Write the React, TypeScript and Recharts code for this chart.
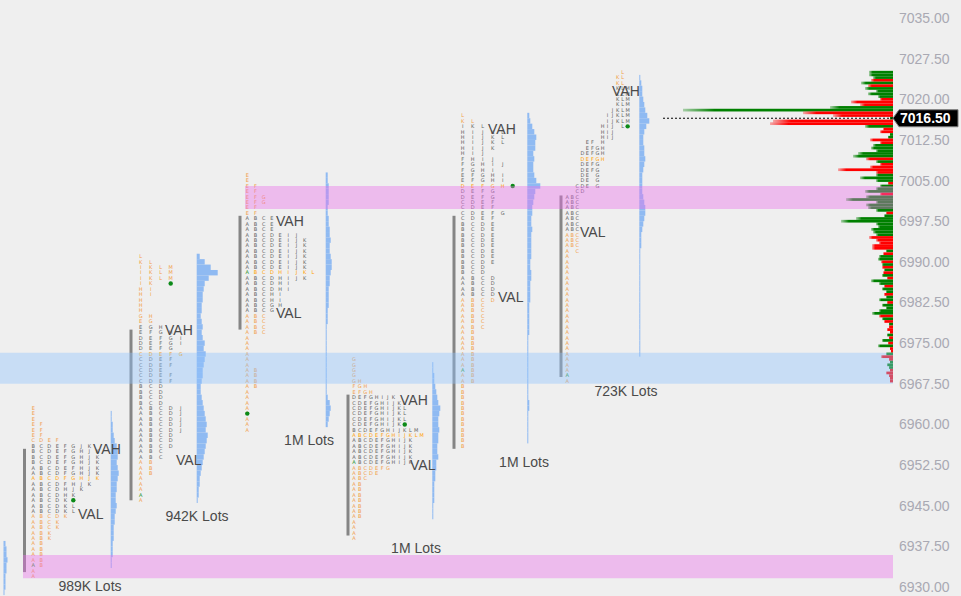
import React from "react";
import { ComposedChart, XAxis, YAxis, Scatter, ReferenceArea, ReferenceLine, ReferenceDot } from "recharts";

const CHART_W = 961;
const CHART_H = 596;
const AXIS_W = 68;
const PLOT_W = CHART_W - AXIS_W;
const Y_MIN = 6928.34;
const Y_MAX = 7038.32;
const PX_PER_PT = CHART_H / (Y_MAX - Y_MIN);

const PRICE_TICKS = [6930, 6937.5, 6945, 6952.5, 6960, 6967.5, 6975, 6982.5, 6990, 6997.5, 7005, 7012.5, 7020, 7027.5, 7035];
const LAST_PRICE = 7016.5;

// collapsed TPO rows, top row first, one row per point
const S1_TOP = 6963;
const S1_ROWS = [
  "E", "E", "E", "EF", "EF", "EF", "CDEF", "BCDEFGJK", "BCDEFGHJK", "BCDEFGHJK", "BCDEFGHJK",
  "ABCDEFHJK", "ABCDFGHJK", "ABCDFGHJK", "ABCDFHJK", "ABCDHJK", "ABCDHK", "ABCDK", "ABCDKL", "ABCDKL",
  "ABCDK", "ABCK", "ABCK", "ABK", "ABK", "AB", "AB", "AB", "AB", "AB", "A", "A",
];
const S2_TOP = 6991;
const S2_ROWS = [
  "L", "KL", "IKLM", "IKLM", "IKLM", "IK", "HI", "HI", "H", "H", "H", "GH", "EG", "EGH", "EFGH",
  "DEFGI", "DEFGI", "DEFG", "CDEFG", "CDEF", "CDEF", "CDE", "CDEF", "CDEF", "BCD", "BCD", "BCD", "BCD",
  "ABCDJ", "ABCDJ", "ABCDJ", "ABCDJ", "ABCDJ", "ABCD", "ABCD", "ABCD", "ABC", "ABC", "AB", "AB", "AB",
  "A", "A", "A", "A", "A",
];
const S3_TOP = 7006;
const S3_ROWS = [
  "E", "E", "EF", "EF", "EFG", "EFG", "EF", "EF", "ABCE", "ABCE", "ABCE", "ABCDEIJ",
  "ABCDEIJK", "ABCDEIJK", "ABCDEIJK", "ABCDEIJK", "ABCDEIJK", "ABCDEIJK", "ABCDHIJKL", "ABCDHIJK",
  "ABCDHI", "ABCDHI", "ABCHI", "ABCHI", "ABCGH", "ABCG", "ABC", "ABC", "ABC", "ABC",
  "A", "A", "A", "A", "A", "A", "AB", "AB", "AB", "AB", "A", "A", "A", "A", "A", "A", "A", "A",
];
const S4_TOP = 6972;
const S4_ROWS = [
  "G", "G", "G", "G", "GH", "FGH", "EFGH", "DEFGHIJK", "CDEFGHIJKL", "CDEFGHIJKL", "CDEFGHIJKL",
  "CDEFGHIJKL", "CDEFGHIJK", "BCDEFGHIJKLM", "ABCDEFGHIJKLM", "ABCDEFGHIJK", "ABCDEFGHIJK",
  "ABCDEFGHIJK", "ABCDEFGHIJK", "ABCDEFGHIJK", "ABCDEFG", "ABCDE", "ABC",
  "AB", "AB", "AB", "AB", "AB", "AB", "AB", "A", "A", "A", "A",
];
const S5_TOP = 7017;
const S5_ROWS = [
  "L", "KL", "IKL", "HIJKL", "HIJKL", "HIJKL", "HIJK", "HIJ", "FHIJ", "FGHIJ", "FGHI", "EFGHI", "EFGHI",
  "DEFGH", "DEFG", "DEFG", "CDEF", "CDEF", "CDEFG", "CDEF", "BCDE", "BCDE", "BCDE", "BCDE", "BCDE",
  "BCDE", "BCDE", "BCDE", "BCD", "BCD", "ABCD", "ABCD", "ABCD", "ABCD", "ABCD", "ABC", "ABC", "ABC",
  "ABC", "ABC", "AB", "AB", "AB", "AB", "AB", "AB", "AB", "AB", "AB", "AB",
  "B", "B", "B", "B", "B", "B", "B", "B", "B", "B", "B", "B",
];
// last session shown unfolded: each period in its own column
const S6_PERIODS: [string, number, number][] = [
  ["A", 6968, 7002], ["B", 6993, 7002], ["C", 6992, 7004], ["D", 7003, 7010], ["E", 7004, 7012],
  ["F", 7007, 7012], ["G", 7004, 7011], ["H", 7009, 7015], ["I", 7013, 7017], ["J", 7013, 7018],
  ["K", 7016, 7024], ["L", 7015, 7025], ["M", 7016, 7022],
];

const VAH = [6956, 6978, 6998, 6965, 7015, 7022];
const VAL = [6944, 6954, 6981, 6953, 6984, 6996];
const POC = [6950, 6973, 6988, 6958, 7004, 7009];
const OPEN = [6934, 6947, 6988, 6953, 6970, 6969];
const CLOSE_PRICE = [6946, 6986, 6962, 6960, 7004, 7015];
const CLOSE_PERIOD = [5, 3, 0, 9, 5, 12];
const IB_HIGH = [6955.5, 6977.5, 6998.5, 6965.5, 6998.5, 7002.25];
const IB_LOW = [6932.75, 6946, 6977.5, 6939.5, 6955.5, 6968.75];
const LOTS = ["989K Lots", "942K Lots", "1M Lots", "1M Lots", "1M Lots", "723K Lots"];

// relative session volume per point, top price first
const S0_HIST_TOP = 6938;
const S0_HIST = [2, 3, 3, 4, 3, 3, 2, 2, 2, 1];
const S1_HIST_TOP = 6962;
const S1_HIST = [1, 1, 2, 2, 3, 4, 6, 7, 7, 6, 7, 8, 7, 6, 6, 5, 5, 6, 5, 4, 4, 3, 3, 3, 2, 2, 2, 1, 1];
const S2_HIST_TOP = 6991;
const S2_HIST = [
  3, 8, 14, 21, 12, 8, 7, 6, 6, 5, 5, 4, 5, 6, 5, 6, 8, 7, 9, 8, 7, 6, 6, 5, 4,
  4, 5, 6, 7, 8, 9, 10, 9, 11, 10, 9, 8, 7, 6, 5, 4, 3, 3, 2, 2, 1,
];
const S3_HIST_TOP = 7006;
const S3_HIST = [
  2, 2, 3, 3, 3, 3, 2, 2, 3, 3, 4, 4, 5, 4, 4, 5, 6, 6, 5, 4, 4, 3, 3, 3, 3, 2, 2, 2, 1, 1,
  1, 1, 1, 1, 1, 1, 1, 1, 1, 1, 1, 2, 4, 5, 4, 3, 2,
];
const S4_HIST_TOP = 6971;
const S4_HIST = [1, 1, 2, 2, 3, 4, 5, 6, 8, 7, 6, 6, 7, 6, 6, 5, 5, 6, 4, 4, 3, 3, 2, 2, 2, 2, 1, 1, 1];
const S5_HIST_TOP = 7017;
const S5_HIST = [
  2, 3, 5, 7, 9, 8, 8, 6, 7, 6, 6, 7, 9, 13, 8, 7, 6, 5, 5, 4, 4, 5, 4, 4, 4, 4, 4, 3, 3, 4,
  4, 3, 3, 3, 3, 2, 2, 2, 2, 2, 2, 1, 1, 1, 1, 1, 1, 1, 1, 1, 1, 1, 1, 2, 2, 1, 1, 1, 1, 1, 1,
];
const S6_HIST_TOP = 7024;
const S6_HIST = [
  1, 2, 3, 3, 4, 5, 6, 8, 10, 7, 5, 4, 4, 5, 5, 6, 5, 4, 3, 3, 3, 3, 4, 5, 6, 6, 5, 4, 3, 2,
  2, 2, 1, 1, 1, 1, 1, 1, 1, 1, 1, 1, 1, 1, 1, 1, 1, 1, 1, 1, 1, 1,
];

// composite volume profile, half-point steps from the top; + buyers, - sellers
const PROFILE_TOP = 7025;
const PROFILE_VOL = [
  24, 24, 20, -22, 32, -25, 28, 17, 25, 15,
  -13, -42, -33, 63, 210, -90, -60, 3, -120, -123,
  28, -10, -13, 3, 5, -23, -13, 20, 22, 17,
  35, 40, -27, 17, -13, -23, -55, -17, 17, 33,
  17, -5, 13, 17, 28, -13, 27, 47, 17, 27,
  25, 17, -7, 9, 37, 52, 17, 15, 22, 20,
  17, -24, -17, -14, -21, -21, 7, -10, 14, 15,
  -12, 11, -11, 9, -10, 11, -6, 22, 14, -9,
  11, 7, -9, 7, 14, -6, 11, 7, 14, 21,
  -14, 11, -9, 4, -4, -6, -3, 6, -4, 11,
  -5, 15, -3, -2, 7, -12, -4, 3, 6, 4,
  -3, -7, -4, -3, -3,
];

const BAND_LOW = [6931.6, 6967.5, 6999.75];
const BAND_HIGH = [6935.9, 6973.25, 7004];
const BAND_KIND = ["pink", "blue", "pink"];

// layout (pixels along the hidden x axis)
const SESSION_X0 = [33.3, 140.7, 247.3, 354, 462.7, 567.3];
const COL_W = [8, 10, 8.2, 5.64, 10, 5.03];
const HIST_X = [110.7, 196.7, 325.7, 432.3, 527.3, 639.3];
const S0_HIST_X = 3.5;
const IB_X = [24.5, 131, 240, 348, 454, 561];
const VAH_LABEL_X = [93, 165, 276, 400, 488, 612];
const VAL_LABEL_X = [78, 176, 276, 410, 498, 580];
const LOTS_X = [90, 197, 309, 416, 524, 626];
const LOTS_DY = [10, 16, 10, 10, 16, 10];
const BAND_X0 = [23, 0, 245];
const LAST_LINE_X0 = 663;

const LETTER_COLOR: Record<string, string> = { in: "#636363", out: "#f29e48", poc: "#ffa200", open: "#149020" };
const BAND_COLOR: Record<string, string> = { pink: "#ec6dec", blue: "#8ec4fe" };

const letters: any[] = [];
const addLetter = (s: number, col: number, price: number, ch: string) => {
  let kind = price === POC[s] ? "poc" : price > VAH[s] || price < VAL[s] ? "out" : "in";
  if (col === 0 && price === OPEN[s]) kind = "open";
  letters.push({ x: SESSION_X0[s] + col * COL_W[s], y: price, ch, kind });
};
const collapsed: [number, string[]][] = [
  [S1_TOP, S1_ROWS], [S2_TOP, S2_ROWS], [S3_TOP, S3_ROWS], [S4_TOP, S4_ROWS], [S5_TOP, S5_ROWS],
];
const sessionLow: number[] = [];
collapsed.forEach(([top, rows], s) => {
  rows.forEach((row, i) => row.split("").forEach((ch, j) => addLetter(s, j, top - i, ch)));
  sessionLow[s] = top - rows.length + 1;
});
S6_PERIODS.forEach(([ch, lo, hi], j) => {
  for (let p = lo; p <= hi; p++) addLetter(5, j, p, ch);
});
sessionLow[5] = Math.min(...S6_PERIODS.map((p) => p[1]));

const closeDots = CLOSE_PRICE.map((p, s) => ({ x: SESSION_X0[s] + CLOSE_PERIOD[s] * COL_W[s], y: p }));

const histBars: any[] = [];
const hists: [number, number[], number][] = [
  [S0_HIST_TOP, S0_HIST, S0_HIST_X], [S1_HIST_TOP, S1_HIST, HIST_X[0]], [S2_HIST_TOP, S2_HIST, HIST_X[1]],
  [S3_HIST_TOP, S3_HIST, HIST_X[2]], [S4_HIST_TOP, S4_HIST, HIST_X[3]], [S5_HIST_TOP, S5_HIST, HIST_X[4]],
  [S6_HIST_TOP, S6_HIST, HIST_X[5]],
];
hists.forEach(([top, vals, x]) => vals.forEach((v, i) => histBars.push({ x, y: top - i, v })));

const profileBars = PROFILE_VOL.map((v, i) => ({ x: PLOT_W, y: PROFILE_TOP - i * 0.5, v }));

const labels: any[] = [];
VAH.forEach((p, s) => labels.push({ x: VAH_LABEL_X[s], y: p, text: "VAH", anchor: "start", dy: 2.7 }));
VAL.forEach((p, s) => labels.push({ x: VAL_LABEL_X[s], y: p, text: "VAL", anchor: "start", dy: 2.7 }));
LOTS.forEach((t, s) => labels.push({ x: LOTS_X[s], y: sessionLow[s], text: t, anchor: "middle", dy: LOTS_DY[s] }));

const LetterShape = (props: any) => {
  const { cx, cy, payload } = props;
  return (
    <text x={cx} y={cy} dy="0.36em" textAnchor="middle" fontSize={5} fontFamily="DejaVu Sans" fill={LETTER_COLOR[payload.kind]}>
      {payload.ch}
    </text>
  );
};

const DotShape = (props: any) => <circle cx={props.cx} cy={props.cy} r={2.2} fill="#0c8a18" />;

const HistShape = (props: any) => {
  const { cx, cy, payload } = props;
  return <rect x={cx} y={cy - PX_PER_PT / 2} width={Math.max(1, payload.v)} height={PX_PER_PT} fill="#8fbaf2" />;
};

const ProfileShape = (props: any) => {
  const { cx, cy, payload } = props;
  const w = Math.abs(payload.v);
  const h = PX_PER_PT / 2;
  return <rect x={cx - w} y={cy - h / 2} width={w} height={h} fill={payload.v > 0 ? "url(#buyFade)" : "url(#sellFade)"} />;
};

const LabelShape = (props: any) => {
  const { cx, cy, payload } = props;
  return (
    <text x={cx} y={cy + payload.dy} dy="0.36em" textAnchor={payload.anchor} fontSize={14} fontFamily="Liberation Sans, Arial" fill="#4a4a4a">
      {payload.text}
    </text>
  );
};

const PriceTag = (props: any) => {
  const { cx, cy } = props;
  return (
    <g>
      <path d={`M${cx},${cy} L${cx + 6},${cy - 8.5} L${cx + 65},${cy - 8.5} L${cx + 65},${cy + 8.5} L${cx + 6},${cy + 8.5} Z`} fill="#000" stroke="#7a7a7a" strokeWidth={1} />
      <text x={cx + 7} y={cy} dy="0.36em" fontSize={14} fontWeight="bold" fontFamily="Liberation Sans, Arial" fill="#fff">
        {LAST_PRICE.toFixed(2)}
      </text>
    </g>
  );
};

export default function App() {
  return (
    <div style={{ position: "absolute", left: 0, top: 0, width: CHART_W, height: CHART_H, background: "#efefef" }}>
      <ComposedChart width={CHART_W} height={CHART_H} margin={{ top: 0, right: 0, bottom: 0, left: 0 }}>
        <defs>
          <linearGradient id="buyFade" x1="0" y1="0" x2="1" y2="0">
            <stop offset="0" stopColor="#008000" stopOpacity={0.3} />
            <stop offset="0.15" stopColor="#008000" stopOpacity={1} />
          </linearGradient>
          <linearGradient id="sellFade" x1="0" y1="0" x2="1" y2="0">
            <stop offset="0" stopColor="#ff0000" stopOpacity={0.3} />
            <stop offset="0.15" stopColor="#ff0000" stopOpacity={1} />
          </linearGradient>
        </defs>
        <XAxis type="number" dataKey="x" domain={[0, PLOT_W]} allowDataOverflow hide />
        <YAxis
          type="number"
          dataKey="y"
          orientation="right"
          width={AXIS_W}
          domain={[Y_MIN, Y_MAX]}
          allowDataOverflow
          ticks={PRICE_TICKS}
          interval={0}
          tickFormatter={(v: number) => v.toFixed(2)}
          axisLine={false}
          tickLine={false}
          tickSize={0}
          tickMargin={6}
          tick={{ fill: "#a9a9b3", fontSize: 14, fontFamily: "Liberation Sans, Arial" }}
        />
        {IB_X.map((x, s) => (
          <ReferenceLine key={"ib" + s} segment={[{ x, y: IB_LOW[s] }, { x, y: IB_HIGH[s] }]} stroke="#858585" strokeWidth={3} />
        ))}
        <Scatter data={histBars} shape={HistShape} isAnimationActive={false} />
        <Scatter data={profileBars} shape={ProfileShape} isAnimationActive={false} />
        <Scatter data={letters} shape={LetterShape} isAnimationActive={false} />
        <Scatter data={closeDots} shape={DotShape} isAnimationActive={false} />
        <Scatter data={labels} shape={LabelShape} isAnimationActive={false} />
        {BAND_LOW.map((lo, i) => (
          <ReferenceArea
            key={"band" + i}
            x1={BAND_X0[i]}
            x2={PLOT_W}
            y1={lo}
            y2={BAND_HIGH[i]}
            fill={BAND_COLOR[BAND_KIND[i]]}
            fillOpacity={0.4}
            stroke="none"
            zIndex={1000}
          />
        ))}
        <ReferenceLine
          segment={[{ x: LAST_LINE_X0, y: LAST_PRICE }, { x: PLOT_W, y: LAST_PRICE }]}
          stroke="#000"
          strokeDasharray="2 2"
          zIndex={1100}
        />
        <ReferenceDot x={PLOT_W} y={LAST_PRICE} shape={PriceTag} ifOverflow="visible" zIndex={1200} />
      </ComposedChart>
    </div>
  );
}
